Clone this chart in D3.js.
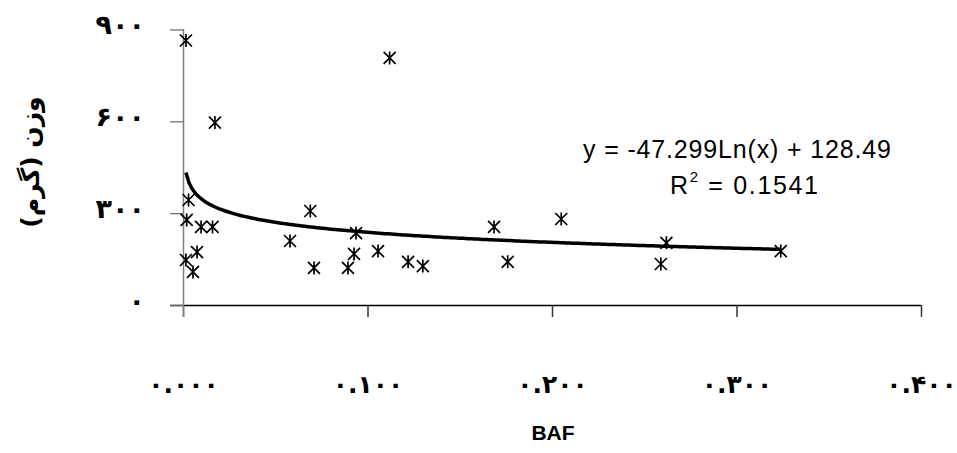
<!DOCTYPE html>
<html>
<head>
<meta charset="utf-8">
<script src="https://cdn.jsdelivr.net/npm/d3@7"></script>
<style>
  body { margin: 0; background: #fff; }
  svg { display: block; }
</style>
</head>
<body>
<div id="chart"></div>
<script>
// BAF vs weight (grams)
const bafValues = [0.0016, 0.0173, 0.112, 0.003, 0.002, 0.0098, 0.016, 0.0016, 0.0076, 0.0054,
                   0.058, 0.069, 0.071, 0.0894, 0.0927, 0.0938, 0.1057, 0.122, 0.130,
                   0.1686, 0.205, 0.176, 0.262, 0.259, 0.324];
const weightValues = [864, 596, 807, 343, 278, 255, 255, 147, 173, 108,
                      209, 307, 121, 121, 167, 235, 176, 141, 127,
                      255, 281, 141, 203, 134, 176];

const xTicks = [0, 0.1, 0.2, 0.3, 0.4];
const xTickLabels = ["۰.۰۰۰", "۰.۱۰۰", "۰.۲۰۰", "۰.۳۰۰", "۰.۴۰۰"];
const yTicks = [0, 300, 600, 900];
const yTickLabels = ["۰", "۳۰۰", "۶۰۰", "۹۰۰"];

// log trendline coefficients as printed on the chart
const trendSlope = -47.299;
const trendIntercept = 128.49;

const width = 957, height = 453;

const svg = d3.select("#chart")
    .append("svg")
    .attr("width", width)
    .attr("height", height);

const x = d3.scaleLinear().domain([0, 0.4]).range([183, 921]);
const y = d3.scaleLinear().domain([0, 900]).range([305, 29.5]);

// x axis (black)
const xAxis = svg.append("g")
    .attr("transform", "translate(0,305)")
    .call(d3.axisBottom(x).tickValues(xTicks).tickSize(12).tickSizeOuter(0)
        .tickFormat((d, i) => xTickLabels[i]));
xAxis.select(".domain").attr("stroke", "#000").attr("stroke-width", 1.5)
    .attr("d", "M170,0.5H921");
xAxis.selectAll(".tick line").attr("stroke", "#333").attr("stroke-width", 1.5);
xAxis.selectAll(".tick text")
    .attr("y", 80)
    .attr("dy", "0.3em")
    .attr("direction", "ltr")
    .style("font-family", "'DejaVu Sans'")
    .style("font-weight", "bold")
    .style("font-size", "25px")
    .attr("fill", "#000");

// y axis (gray)
const yAxis = svg.append("g")
    .attr("transform", "translate(183,0)")
    .call(d3.axisLeft(y).tickValues(yTicks).tickSize(13).tickSizeOuter(0)
        .tickFormat((d, i) => yTickLabels[i]));
yAxis.select(".domain").attr("stroke", "#808080").attr("stroke-width", 1.5)
    .attr("d", "M0.5,29V317");
yAxis.selectAll(".tick line").attr("stroke", "#666").attr("stroke-width", 1.2);
yAxis.selectAll(".tick text")
    .attr("dy", "0.15em")
    .attr("direction", "ltr")
    .attr("text-anchor", "end")
    .attr("x", -38)
    .style("font-family", "'DejaVu Sans'")
    .style("font-weight", "bold")
    .style("font-size", "27px")
    .style("letter-spacing", "2px")
    .attr("fill", "#000");

// trend line sampled along the data range
const xMin = d3.min(bafValues), xMax = d3.max(bafValues);
const trendXs = d3.range(0, 201).map(i => xMin + (xMax - xMin) * i / 200);
const line = d3.line()
    .x(d => x(d))
    .y(d => y(trendSlope * Math.log(d) + trendIntercept));
svg.append("path")
    .datum(trendXs)
    .attr("d", line)
    .attr("fill", "none")
    .attr("stroke", "#000")
    .attr("stroke-width", 3.5);

// star markers
const r = 6;
const starPath = `M${-r},${-r}L${r},${r}M${-r},${r}L${r},${-r}M0,${-r - 0.5}L0,${r + 0.5}`;
svg.selectAll(".pt")
    .data(d3.range(bafValues.length))
    .enter()
    .append("path")
    .attr("class", "pt")
    .attr("transform", i => `translate(${x(bafValues[i])},${y(weightValues[i])})`)
    .attr("d", starPath)
    .attr("fill", "none")
    .attr("stroke", "#000")
    .attr("stroke-width", 1.7);

// equation
svg.append("text")
    .attr("x", 737)
    .attr("y", 158)
    .attr("text-anchor", "middle")
    .style("font-family", "'Liberation Sans', Arial, sans-serif")
    .style("font-size", "25px")
    .attr("textLength", 308)
    .attr("lengthAdjust", "spacing")
    .text("y = -47.299Ln(x) + 128.49");

const r2 = svg.append("text")
    .attr("x", 744)
    .attr("y", 194)
    .attr("text-anchor", "middle")
    .style("font-family", "'Liberation Sans', Arial, sans-serif")
    .style("font-size", "25px")
    .attr("textLength", 148)
    .attr("lengthAdjust", "spacing");
r2.append("tspan").text("R");
r2.append("tspan").attr("dy", -12).style("font-size", "15px").text("2");
r2.append("tspan").attr("dy", 12).text(" = 0.1541");

// axis titles
svg.append("text")
    .attr("x", 553)
    .attr("y", 440)
    .attr("text-anchor", "middle")
    .style("font-family", "'Liberation Sans', Arial, sans-serif")
    .style("font-weight", "bold")
    .style("font-size", "21px")
    .text("BAF");

svg.append("text")
    .attr("transform", "translate(30,162) rotate(-90)")
    .attr("text-anchor", "middle")
    .attr("dy", "0.35em")
    .attr("direction", "rtl")
    .style("font-family", "'DejaVu Sans'")
    .style("font-weight", "bold")
    .style("font-size", "25px")
    .text("وزن (گرم)");
</script>
</body>
</html>
